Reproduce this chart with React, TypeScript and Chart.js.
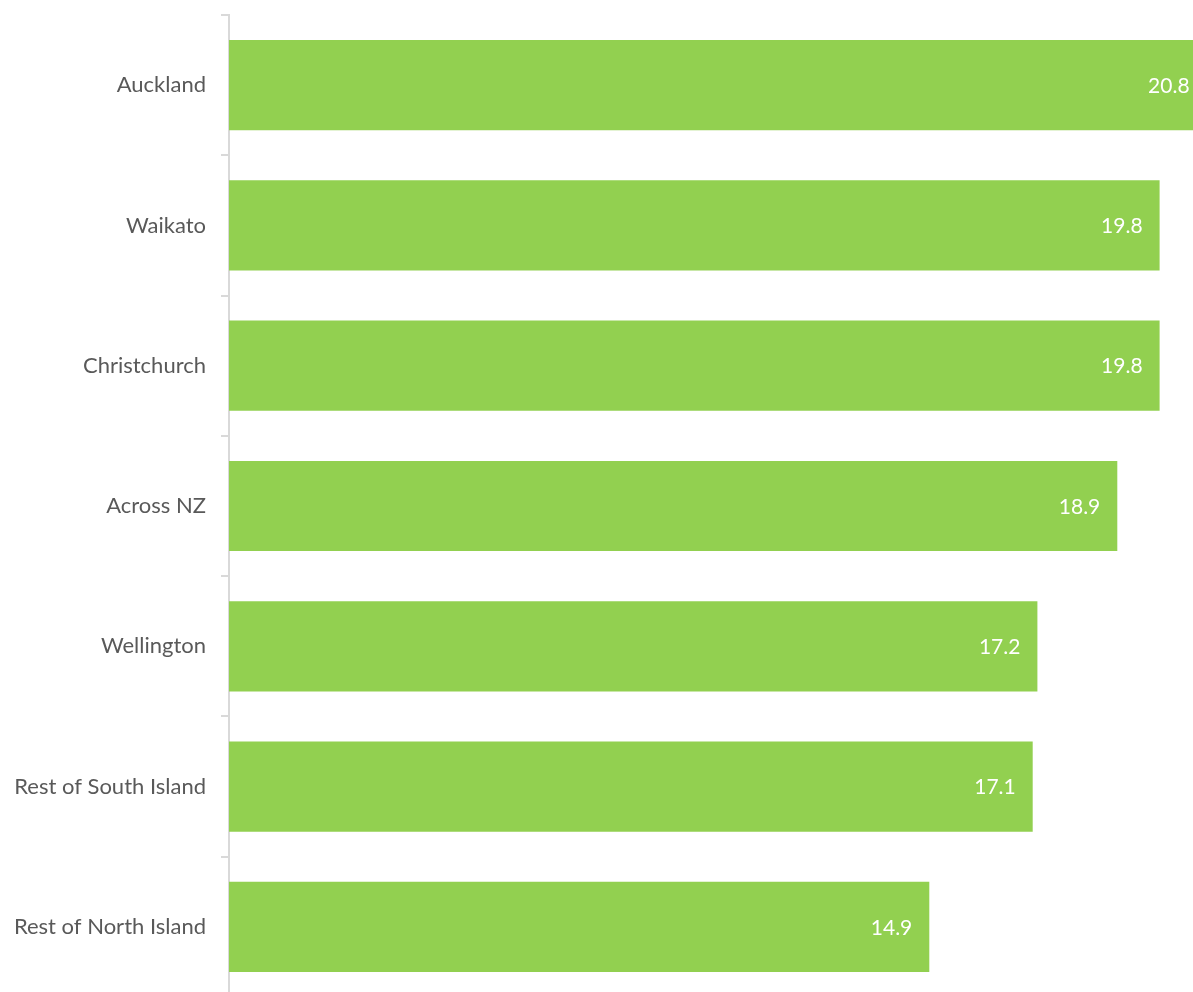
import React, { useEffect, useRef } from "react";
import { Chart, registerables } from "chart.js";

Chart.register(...registerables);

const categories = [
  "Auckland",
  "Waikato",
  "Christchurch",
  "Across NZ",
  "Wellington",
  "Rest of South Island",
  "Rest of North Island",
];
const values = [20.8, 19.8, 19.8, 18.9, 17.2, 17.1, 14.9];
const valueLabels = ["20.8", "19.8", "19.8", "18.9", "17.2", "17.1", "14.9"];

const FONT = "Lato, 'Open Sans', sans-serif";

const valueLabelPlugin = {
  id: "valueLabels",
  afterDatasetsDraw(chart: any) {
    const ctx = chart.ctx;
    const meta = chart.getDatasetMeta(0);
    ctx.save();
    ctx.fillStyle = "#ffffff";
    ctx.font = `21px ${FONT}`;
    ctx.textAlign = "right";
    ctx.textBaseline = "middle";
    meta.data.forEach((bar: any, i: number) => {
      ctx.fillText(valueLabels[i], bar.x - 17, bar.y + 1);
    });
    ctx.restore();
  },
};

export default function App() {
  const ref = useRef<HTMLCanvasElement | null>(null);

  useEffect(() => {
    if (!ref.current) return;
    const chart = new Chart(ref.current, {
      type: "bar",
      data: {
        labels: categories,
        datasets: [
          {
            data: values,
            backgroundColor: "#92D050",
            borderWidth: 0,
            categoryPercentage: 1,
            barPercentage: 0.643,
          },
        ],
      },
      options: {
        indexAxis: "y",
        responsive: false,
        maintainAspectRatio: false,
        animation: false,
        layout: { padding: { top: 15, right: 0, bottom: 0, left: 0 } },
        plugins: {
          legend: { display: false },
          tooltip: { enabled: false },
        },
        scales: {
          x: {
            display: false,
            min: 0,
            max: 21,
          },
          y: {
            offset: true,
            afterFit(scale: any) {
              scale.width = 229;
              scale.paddingTop = 0;
              scale.paddingBottom = 0;
            },
            border: { display: true, color: "#d9d9d9", width: 2 },
            grid: {
              offset: true,
              drawOnChartArea: false,
              drawTicks: true,
              tickLength: 8,
              color: "#d9d9d9",
              lineWidth: 2,
            },
            ticks: {
              color: "#595959",
              padding: 15,
              font: { family: FONT, size: 22 },
            },
          },
        },
      },
      plugins: [valueLabelPlugin],
    });
    return () => chart.destroy();
  }, []);

  return (
    <div
      style={{
        position: "fixed",
        left: 0,
        top: 0,
        width: 1193,
        height: 992,
        overflow: "hidden",
        background: "#fff",
      }}
    >
      <canvas ref={ref} width={1216} height={997} style={{ display: "block" }} />
    </div>
  );
}
